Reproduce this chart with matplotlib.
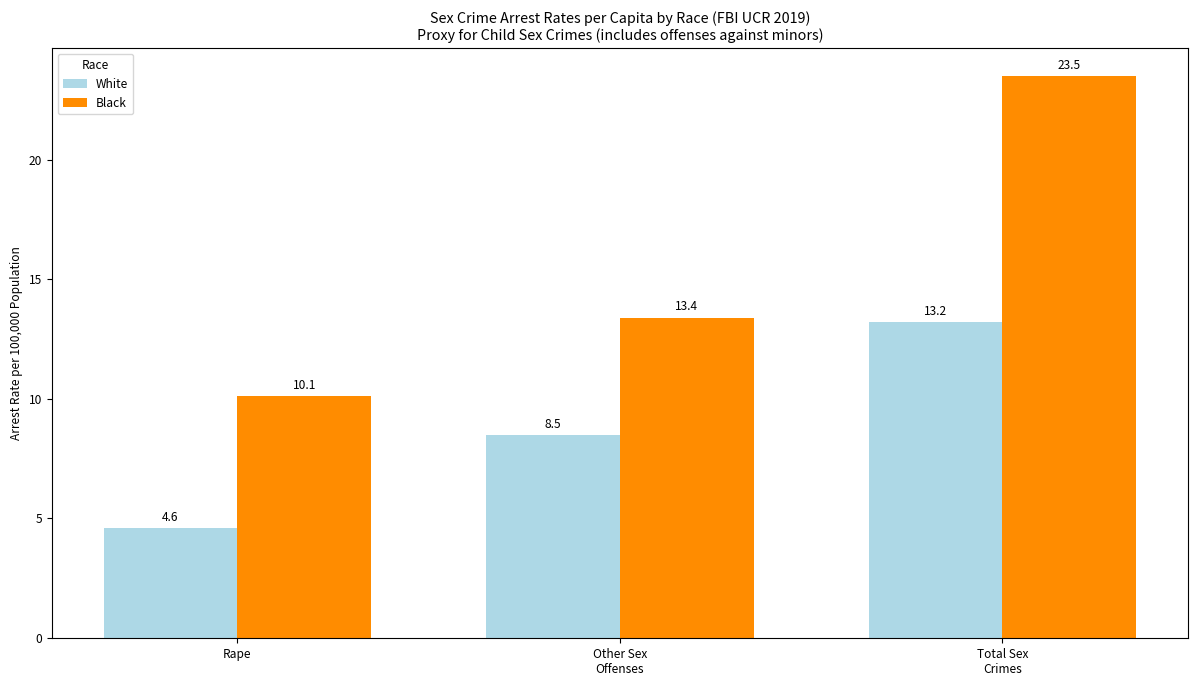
import matplotlib
matplotlib.use("Agg")
import matplotlib.pyplot as plt
import numpy as np

plt.rcParams['font.family'] = ['Noto Sans CJK SC', 'DejaVu Sans']

categories = ["Rape", "Other Sex\nOffenses", "Total Sex\nCrimes"]
white = [4.6, 8.5, 13.2]
black = [10.1, 13.4, 23.5]

fs = 8.6
fig, ax = plt.subplots(figsize=(12, 6.86), dpi=100)
x = np.arange(len(categories))
w = 0.35
b1 = ax.bar(x - w/2, white, w, color="lightblue", label="White")
b2 = ax.bar(x + w/2, black, w, color="darkorange", label="Black")
for bars in (b1, b2):
    ax.bar_label(bars, fmt="%.1f", padding=3, fontsize=fs)
ax.set_xticks(x)
ax.set_xticklabels(categories, fontsize=fs)
ax.tick_params(axis='y', labelsize=fs)
ax.set_ylabel("Arrest Rate per 100,000 Population", fontsize=fs)
ax.set_title("Sex Crime Arrest Rates per Capita by Race (FBI UCR 2019)\nProxy for Child Sex Crimes (includes offenses against minors)", fontsize=10.3)
ax.legend(title="Race", loc="upper left", fontsize=fs, title_fontsize=fs)
fig.subplots_adjust(left=0.0433, right=0.99, top=0.930, bottom=0.07)
fig.savefig("out.png", dpi=100)
